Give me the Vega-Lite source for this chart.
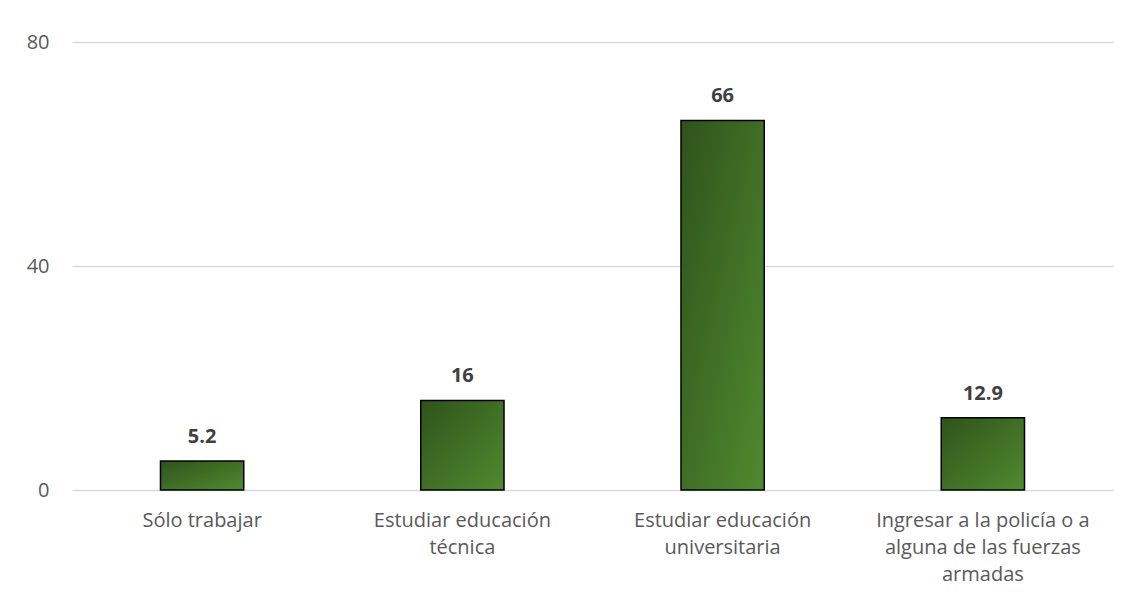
{
  "$schema": "https://vega.github.io/schema/vega-lite/v6.json",
  "autosize": "none",
  "width": 1041,
  "height": 448,
  "padding": {"left": 72, "top": 42, "right": 17, "bottom": 114},
  "background": "white",
  "config": {"view": {"stroke": null}, "font": "Open Sans"},
  "data": {"values": [
    {"cat": "Sólo trabajar", "label": "Sólo trabajar", "value": 5.2, "txt": "5.2"},
    {"cat": "Estudiar educación técnica", "label": "Estudiar educación|técnica", "value": 16, "txt": "16"},
    {"cat": "Estudiar educación universitaria", "label": "Estudiar educación|universitaria", "value": 66, "txt": "66"},
    {"cat": "Ingresar a la policía o a alguna de las fuerzas armadas", "label": "Ingresar a la policía o a|alguna de las fuerzas|armadas", "value": 12.9, "txt": "12.9"}
  ]},
  "encoding": {
    "x": {"field": "label", "type": "nominal", "sort": null,
      "scale": {"paddingInner": 0.68, "paddingOuter": 0.34},
      "axis": {"title": null, "labelAngle": 0, "labelExpr": "split(datum.label, '|')",
        "labelFontSize": 20, "labelColor": "#595959", "labelPadding": 20, "labelLineHeight": 27,
        "ticks": false, "domain": false, "labelLimit": 300}},
    "y": {"field": "value", "type": "quantitative",
      "scale": {"domain": [0, 80]},
      "axis": {"title": null, "values": [0, 40, 80], "labelFontSize": 20, "labelColor": "#595959",
        "labelPadding": 23, "ticks": false, "domain": false, "gridColor": "#d9d9d9", "gridWidth": 1.3}}
  },
  "layer": [
    {"mark": {"type": "bar", "stroke": "#000000", "strokeWidth": 1.5,
      "fill": {"gradient": "linear", "x1": 0, "y1": 0, "x2": 1, "y2": 1,
        "stops": [{"offset": 0, "color": "#2f531b"}, {"offset": 1, "color": "#508a2f"}]}}},
    {"mark": {"type": "text", "baseline": "alphabetic", "dy": -18, "fontSize": 20, "fontWeight": "bold", "color": "#404040"},
      "encoding": {"text": {"field": "txt"}}}
  ]
}
